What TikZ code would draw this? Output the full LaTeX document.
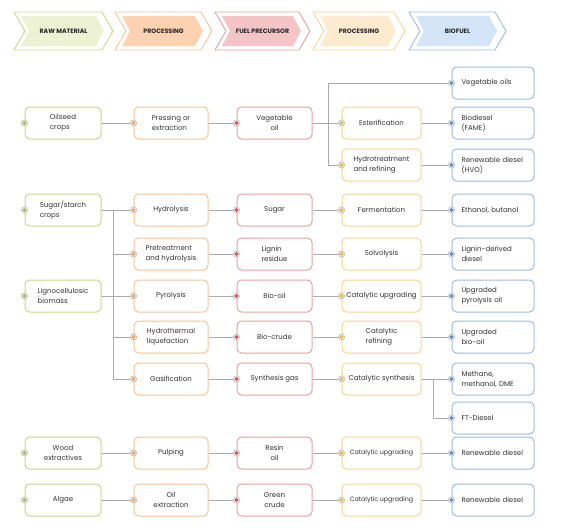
\documentclass[tikz,border=0pt]{standalone}
\usepackage{fontspec}
\setmainfont{Poppins}
\usetikzlibrary{positioning}

\definecolor{rawline}{HTML}{C6D88A}
\definecolor{rawfill}{HTML}{EDF2D4}
\definecolor{rawdot}{HTML}{9DC03A}
\definecolor{proline}{HTML}{F7C396}
\definecolor{profill}{HTML}{FDD2B0}
\definecolor{produt}{HTML}{F6A04E}
\definecolor{preline}{HTML}{E5A0A3}
\definecolor{prefill}{HTML}{F4C4C6}
\definecolor{predot}{HTML}{E0434C}
\definecolor{upline}{HTML}{F6D68E}
\definecolor{upfill}{HTML}{FDEACF}
\definecolor{updot}{HTML}{F4B928}
\definecolor{fuelline}{HTML}{9DBCDD}
\definecolor{fuelfill}{HTML}{D2E4F5}
\definecolor{fueldot}{HTML}{4B86C6}
\definecolor{linkgray}{HTML}{ABABAB}
\definecolor{ringgray}{HTML}{E2E2E2}
\definecolor{textgray}{HTML}{333333}

\tikzset{
    box/.style={draw, rounded corners=4.5pt, fill=white, line width=1pt,
        minimum height=32pt, inner sep=2pt, align=left, text=textgray,
        font=\fontsize{7}{10}\selectfont},
    rawbox/.style={box, draw=rawline, minimum width=76pt},
    probox/.style={box, draw=proline, minimum width=74pt},
    prebox/.style={box, draw=preline, minimum width=75pt},
    upbox/.style={box, draw=upline, minimum width=79pt},
    fuelbox/.style={box, draw=fuelline, minimum width=82pt, text width=63pt},
    headtext/.style={text=black!85, font=\fontsize{6.3}{7}\selectfont\bfseries},
    link/.style={draw=linkgray, line width=1pt},
    dotring/.style={fill=ringgray, draw=linkgray!80, line width=0.5pt},
}

\begin{document}
\begin{tikzpicture}[x=1pt,y=-1pt]
    \useasboundingbox[fill=white] (0,0) rectangle (567,531);
    %% header arrows
    \foreach \xa/\xb/\cl/\cf/\txt in {14/113/rawline/rawfill/RAW MATERIAL,
            115/212/proline/profill/PROCESSING,
            215/310/preline/prefill/FUEL PRECURSOR,
            313/405/upline/upfill/PROCESSING,
            409/506/fuelline/fuelfill/BIOFUEL} {
        \draw[\cl, line width=0.9pt, line join=round] (\xa,12) -- (\xb-11,12) -- (\xb,31)
            -- (\xb-11,50) -- (\xa,50) -- (\xa+11,31) -- cycle;
        \fill[\cf] (\xa+7,16) -- (\xb-17,16) -- (\xb-9,31) -- (\xb-17,46)
            -- (\xa+7,46) -- (\xa+15,31) -- cycle;
        \node[headtext] (h\xa) at ({(\xa+\xb)/2},31) {\txt};
    }

    %% raw material
    \node[rawbox] (oilseed) at (63,123) {Oilseed\\crops};
    \node[rawbox] (sugar) at (63,210) {Sugar/starch\\crops};
    \node[rawbox] (ligno) at (63,296) {Lignocellulosic\\biomass};
    \node[rawbox, align=center] (wood) at (63,453) {Wood\\extractives};
    \node[rawbox] (algae) at (63,500) {Algae};

    %% processing
    \node[probox] (press) at (171,123) {Pressing or\\extraction};
    \node[probox] (hydrol) at (171,210) {Hydrolysis};
    \node[probox] (pretreat) at (171,254) {Pretreatment\\and hydrolysis};
    \node[probox] (pyrol) at (171,296) {Pyrolysis};
    \node[probox] (htl) at (171,337) {Hydrothermal\\liquefaction};
    \node[probox] (gasif) at (171,379) {Gasification};
    \node[probox] (pulp) at (171,453) {Pulping};
    \node[probox, align=center] (oilext) at (171,500) {Oil\\extraction};

    %% fuel precursor
    \node[prebox, align=center] (vegoil) at (274.5,123) {Vegetable\\oil};
    \node[prebox] (sugarp) at (274.5,210) {Sugar};
    \node[prebox] (lignin) at (274.5,254) {Lignin\\residue};
    \node[prebox] (biooil) at (274.5,296) {Bio-oil};
    \node[prebox] (biocrude) at (274.5,337) {Bio-crude};
    \node[prebox] (syngas) at (274.5,379) {Synthesis gas};
    \node[prebox, align=center] (resin) at (274.5,453) {Resin\\oil};
    \node[prebox, align=center] (green) at (274.5,500) {Green\\crude};

    %% processing
    \node[upbox] (ester) at (381.5,123) {Esterification};
    \node[upbox] (hydrot) at (381.5,165) {Hydrotreatment\\and refining};
    \node[upbox] (ferm) at (381.5,210) {Fermentation};
    \node[upbox] (solvo) at (381.5,254) {Solvolysis};
    \node[upbox] (catup) at (381.5,296) {Catalytic upgrading};
    \node[upbox] (catref) at (381.5,337) {Catalytic\\refining};
    \node[upbox] (catsyn) at (381.5,379) {Catalytic synthesis};
    \node[upbox, font=\fontsize{6.3}{9}\selectfont] (catupw) at (381.5,453) {Catalytic upgrading};
    \node[upbox, font=\fontsize{6.3}{9}\selectfont] (catupa) at (381.5,500) {Catalytic upgrading};

    %% biofuel
    \node[fuelbox] (vegoils) at (493,83) {Vegetable oils};
    \node[fuelbox] (biodiesel) at (493,123) {Biodiesel\\(FAME)};
    \node[fuelbox] (hvo) at (493,165) {Renewable diesel\\(HVO)};
    \node[fuelbox] (ethanol) at (493,210) {Ethanol, butanol};
    \node[fuelbox] (ligdiesel) at (493,254) {Lignin-derived\\diesel};
    \node[fuelbox] (uppyro) at (493,296) {Upgraded\\pyrolysis oil};
    \node[fuelbox] (upbio) at (493,337) {Upgraded\\bio-oil};
    \node[fuelbox] (methane) at (493,379) {Methane,\\methanol, DME};
    \node[fuelbox] (ftdiesel) at (493,418) {FT-Diesel};
    \node[fuelbox] (rdwood) at (493,453) {Renewable diesel};
    \node[fuelbox] (rdalgae) at (493,500) {Renewable diesel};

    %% links
    \coordinate (vsplit) at ([xshift=16]vegoil.east);
    \coordinate (strunk) at ([xshift=12]sugar.east);
    \coordinate (csplit) at ([xshift=12]catsyn.east);
    \draw[link] (oilseed) -- (press);
    \draw[link] (press) -- (vegoil);
    \draw[link] (vegoil) -- (ester);
    \draw[link] (vsplit) |- (vegoils);
    \draw[link] (vsplit) |- (hydrot);
    \draw[link] (ester) -- (biodiesel);
    \draw[link] (hydrot) -- (hvo);
    \draw[link] (sugar) -- (hydrol);
    \draw[link] (ligno) -- (pyrol);
    \draw[link] (strunk) |- (pretreat);
    \draw[link] (strunk) |- (htl);
    \draw[link] (strunk) |- (gasif);
    \foreach \a/\b in {hydrol/sugarp, sugarp/ferm, ferm/ethanol,
            pretreat/lignin, lignin/solvo, solvo/ligdiesel,
            pyrol/biooil, biooil/catup, catup/uppyro,
            htl/biocrude, biocrude/catref, catref/upbio,
            gasif/syngas, syngas/catsyn, catsyn/methane,
            wood/pulp, pulp/resin, resin/catupw, catupw/rdwood,
            algae/oilext, oilext/green, green/catupa, catupa/rdalgae}
        \draw[link] (\a) -- (\b);
    \draw[link] (csplit) |- (ftdiesel);

    %% dots
    \foreach \n/\c in {oilseed/rawdot, sugar/rawdot, ligno/rawdot, wood/rawdot, algae/rawdot,
            press/produt, hydrol/produt, pretreat/produt, pyrol/produt, htl/produt,
            gasif/produt, pulp/produt, oilext/produt,
            vegoil/predot, sugarp/predot, lignin/predot, biooil/predot, biocrude/predot,
            syngas/predot, resin/predot, green/predot,
            ester/updot, hydrot/updot, ferm/updot, solvo/updot, catup/updot, catref/updot,
            catsyn/updot, catupw/updot, catupa/updot,
            vegoils/fueldot, biodiesel/fueldot, hvo/fueldot, ethanol/fueldot, ligdiesel/fueldot,
            uppyro/fueldot, upbio/fueldot, methane/fueldot, ftdiesel/fueldot, rdwood/fueldot,
            rdalgae/fueldot} {
        \filldraw[dotring] (\n.west) circle (3.2pt);
        \fill[\c] (\n.west) circle (1.8pt);
    }
\end{tikzpicture}
\end{document}
